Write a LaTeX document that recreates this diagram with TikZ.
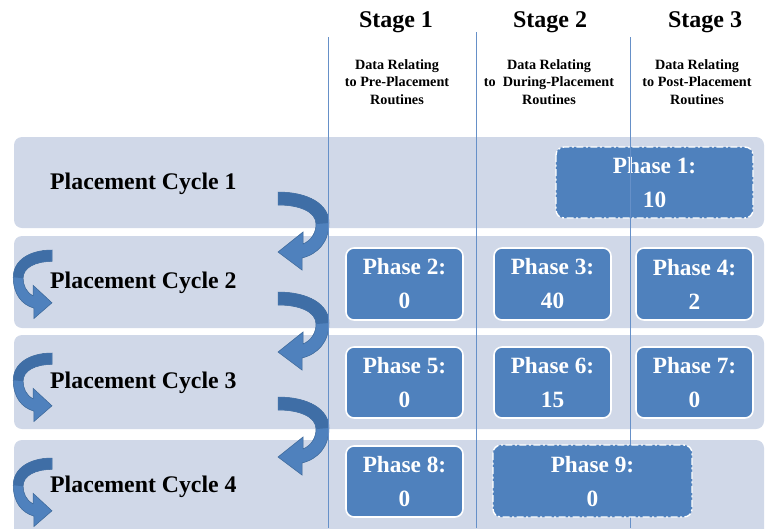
\documentclass[tikz,border=0pt]{standalone}
\usepackage{fontspec}
\setmainfont{Liberation Serif}
\definecolor{bandfill}{HTML}{D0D8E8}
\definecolor{phasefill}{HTML}{4F81BD}
\definecolor{gridline}{HTML}{6690C8}
\definecolor{arrowlight}{HTML}{4F81BD}
\definecolor{arrowdark}{HTML}{3F6EA6}
\definecolor{arrowedge}{HTML}{3A6697}
\begin{document}
\begin{tikzpicture}[x=1pt,y=-1pt,
  band/.style={fill=bandfill,rounded corners=8pt},
  phasebox/.style={fill=phasefill,draw=white,line width=1.6pt,rounded corners=8pt},
  dashbox/.style={fill=phasefill,draw=white,line width=1.4pt,rounded corners=8pt,
    dash pattern=on 7pt off 2.5pt on 2pt off 2.5pt},
  phasetext/.style={text=white,font=\fontsize{23.3}{34}\selectfont\bfseries,align=center,inner sep=0pt},
  cycletext/.style={anchor=west,font=\fontsize{23.8}{27}\selectfont\bfseries,inner sep=0pt},
  stagetext/.style={font=\fontsize{24}{27}\selectfont\bfseries,inner sep=0pt},
  subtext/.style={font=\fontsize{14.2}{17.5}\selectfont\bfseries,align=center,inner sep=0pt},
  stageline/.style={draw=gridline,line width=0.9pt},
  bendarrow/.pic={
    \filldraw[fill=arrowlight,draw=arrowedge,line width=0.5pt]
      (0,0) .. controls (30,0) and (51,12) .. (51,31)
      .. controls (51,50) and (40,62) .. (24,66)
      -- (24,78) -- (0,60) -- (25,40) -- (25,52)
      .. controls (34,48) and (38,40) .. (38,32)
      .. controls (38,20) and (22,13) .. (0,13) -- cycle;
    \fill[arrowdark]
      (0.4,0.4) .. controls (30,0.4) and (50.6,12) .. (50.6,31)
      -- (38.4,32) .. controls (38.4,20) and (22,12.6) .. (0.4,12.6) -- cycle;
  }]
\useasboundingbox (0,0) rectangle (766,528);

% row bands
\fill[band] (14,137) rectangle (764,228);
\fill[band] (14,236) rectangle (764,328);
\fill[band] (14,335) rectangle (764,429);
\fill[band] (14,440) rectangle (764,545);

% headings
\node[stagetext] (s1) at (396,22) {Stage 1};
\node[stagetext] (s2) at (550,22) {Stage 2};
\node[stagetext] (s3) at (705,22) {Stage 3};
\node[subtext] (d1) at (397,82) {Data Relating\\to Pre-Placement\\Routines};
\node[subtext] (d2) at (549,82) {Data Relating\\to\ \ During-Placement\\Routines};
\node[subtext] (d3) at (697,82) {Data Relating\\to Post-Placement\\Routines};

% phase spanning stages 2 and 3 in cycle 1
\draw[dashbox] (556,147) rectangle (753,218);
\node[phasetext] (p1) at (654.5,183) {Phase 1:\\10};

% curved arrows between cycles
\pic at (278,192) {bendarrow};
\pic at (278,292) {bendarrow};
\pic at (278,397) {bendarrow};

% stage separators
\draw[stageline] (328,37) -- (328,528);
\draw[stageline] (476,32) -- (476,528);
\draw[stageline] (630,37) -- (630,528);

% return arrows inside each cycle
\pic[xscale=-0.76,yscale=0.88] at (52,250) {bendarrow};
\pic[xscale=-0.76,yscale=0.88] at (52,353) {bendarrow};
\pic[xscale=-0.76,yscale=0.88] at (52,458) {bendarrow};

% cycle labels
\node[cycletext] (c1) at (50,184) {Placement Cycle 1};
\node[cycletext] (c2) at (50,283) {Placement Cycle 2};
\node[cycletext] (c3) at (50,383) {Placement Cycle 3};
\node[cycletext] (c4) at (50,487) {Placement Cycle 4};

% phase boxes
\draw[phasebox] (346,248) rectangle (463,320);
\node[phasetext] (p2) at (404.5,284) {Phase 2:\\0};
\draw[phasebox] (494,248) rectangle (611,320);
\node[phasetext] (p3) at (552.5,284) {Phase 3:\\40};
\draw[phasebox] (636,248) rectangle (753,320);
\node[phasetext] (p4) at (694.5,284) {Phase 4:\\2};

\draw[phasebox] (346,347) rectangle (463,418);
\node[phasetext] (p5) at (404.5,383) {Phase 5:\\0};
\draw[phasebox] (494,347) rectangle (611,418);
\node[phasetext] (p6) at (552.5,383) {Phase 6:\\15};
\draw[phasebox] (636,347) rectangle (753,418);
\node[phasetext] (p7) at (694.5,383) {Phase 7:\\0};

\draw[phasebox] (346,446) rectangle (463,517);
\node[phasetext] (p8) at (404.5,482) {Phase 8:\\0};
\draw[dashbox] (493,445) rectangle (692,517);
\node[phasetext] (p9) at (592.5,482) {Phase 9:\\0};
\end{tikzpicture}
\end{document}
